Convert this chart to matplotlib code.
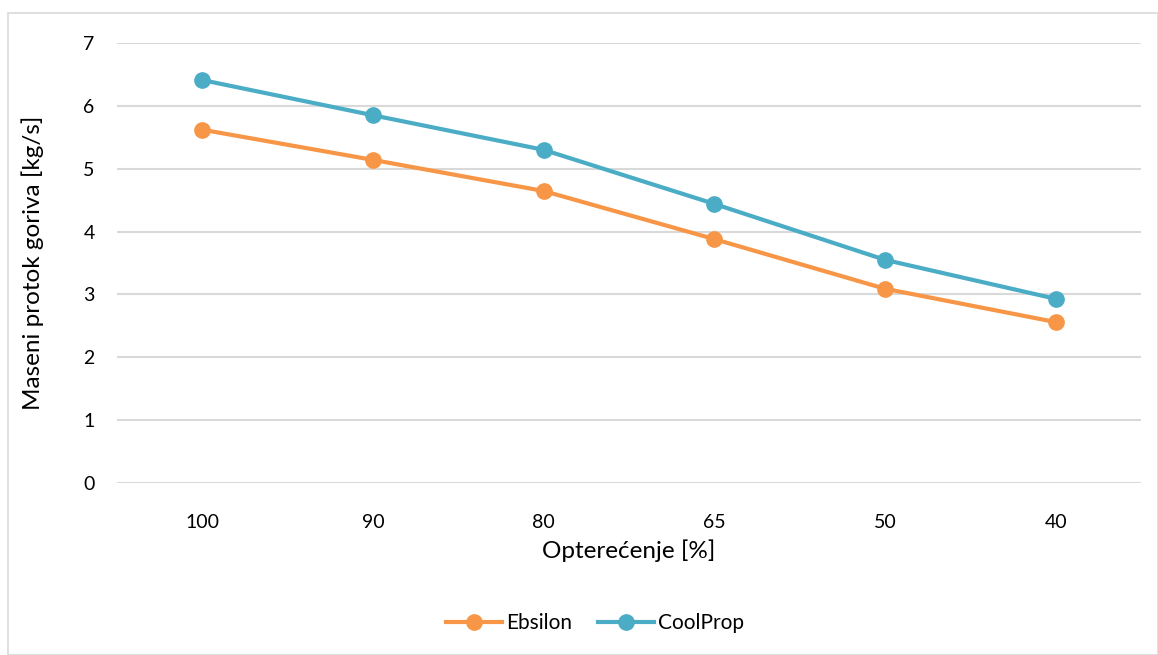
import matplotlib.pyplot as plt
from matplotlib.patches import Rectangle

# Podaci očitani s grafikona
opterecenje = ['100', '90', '80', '65', '50', '40']
ebsilon = [5.62, 5.14, 4.645, 3.88, 3.09, 2.56]
coolprop = [6.41, 5.85, 5.30, 4.44, 3.55, 2.93]

plt.rcParams['font.family'] = ['Lato', 'DejaVu Sans']

fig = plt.figure(figsize=(11.58, 6.55), dpi=100)
ax = fig.add_axes([0.101, 0.2626, 0.8843, 0.6718])

# okvir oko cijelog grafikona
fig.patches.append(Rectangle((8 / 1158, 0), 1 - 8 / 1158, 1 - 13 / 655,
                             transform=fig.transFigure, fill=False,
                             edgecolor='#D9D9D9', linewidth=1.2))

x = range(len(opterecenje))
ax.plot(x, ebsilon, color='#F79646', linewidth=3, marker='o', markersize=11,
        label='Ebsilon', zorder=3)
ax.plot(x, coolprop, color='#4BACC6', linewidth=3, marker='o', markersize=11,
        label='CoolProp', zorder=3)

ax.set_xlim(-0.5, len(opterecenje) - 0.5)
ax.set_ylim(0, 7)
ax.set_yticks(range(0, 8))
ax.set_xticks(list(x))
ax.set_xticklabels(opterecenje)

ax.grid(axis='y', color='#D9D9D9', linewidth=1.5)
ax.set_axisbelow(True)
for s in ax.spines.values():
    s.set_visible(False)
ax.tick_params(axis='both', length=0, labelsize=14, colors='#000000')
ax.tick_params(axis='y', pad=16)
ax.tick_params(axis='x', pad=22)

ax.set_xlabel('Opterećenje [%]', fontsize=17.5)
ax.set_ylabel('Maseni protok goriva [kg/s]', fontsize=17.5)
ax.xaxis.set_label_coords(0.5, -0.1545)
ax.yaxis.set_label_coords(-0.082, 0.5)
ax.yaxis.label.set_va('center')
ax.xaxis.label.set_va('center')

fig.legend(loc='center', bbox_to_anchor=(595 / 1158, 1 - 623 / 655), ncol=2,
           frameon=False, fontsize=15, handlelength=2.7, columnspacing=1.2,
           handletextpad=0.2)

fig.savefig('out.png', dpi=100)
